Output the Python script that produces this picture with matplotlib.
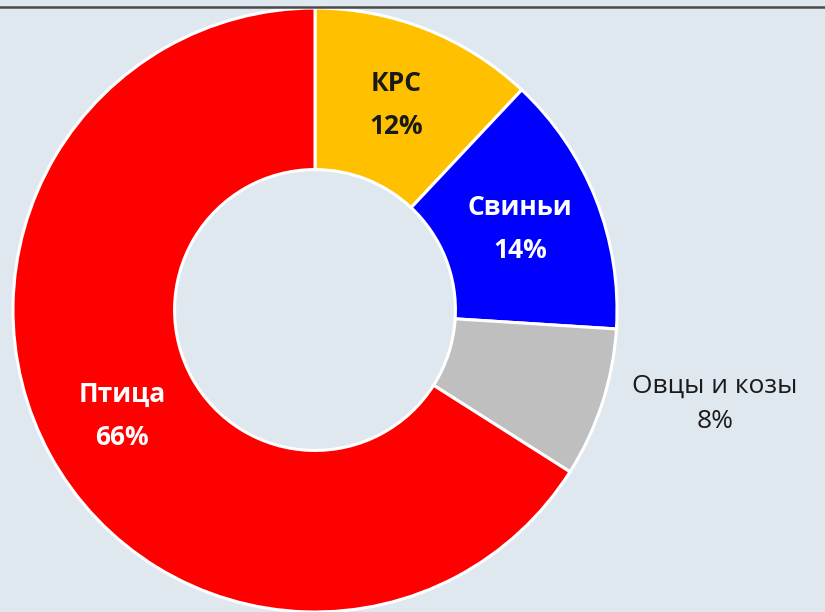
import matplotlib
matplotlib.use("Agg")
import matplotlib.pyplot as plt

categories = ["КРС", "Свиньи", "Овцы и козы", "Птица"]
values = [12, 14, 8, 66]
colors = ["#FFC000", "#0000FF", "#BFBFBF", "#FF0000"]
text_colors = ["#1a1a1a", "white", "#1a1a1a", "white"]
bold = [True, True, False, True]

plt.rcParams['font.family'] = ['Open Sans', 'DejaVu Sans']

bg = "#dfe7ef"
fig = plt.figure(figsize=(8.25, 6.12), dpi=100, facecolor=bg)
# top border line
fig.add_artist(plt.Line2D([0, 1], [1 - 6.5/612, 1 - 6.5/612], transform=fig.transFigure,
                          color="#4a4a4a", lw=1.8))

cx, cy, r = 315, 310, 302
W, H = 825, 612
ax = fig.add_axes([(cx - r) / W, (H - cy - r) / H, 2 * r / W, 2 * r / H])
ax.set_facecolor("none")

labels = [f"{c}\n{v}%" for c, v in zip(categories, values)]
wedges, texts = ax.pie(values, colors=colors, startangle=90, counterclock=False,
                       labels=labels, labeldistance=0.73,
                       wedgeprops=dict(width=0.535, edgecolor="white", linewidth=2.2),
                       textprops=dict(fontsize=19, ha="center", va="center", linespacing=1.75))
for t, c, b in zip(texts, text_colors, bold):
    t.set_color(c)
    t.set_fontweight("bold" if b else "normal")
    t.set_horizontalalignment("center")
    t.set_verticalalignment("center")
# outside label for the small slice
texts[2].set_position((1.325, -0.31))
texts[2].set_linespacing(1.55)

ax.set_xlim(-1, 1)
ax.set_ylim(-1, 1)
ax.set_aspect("auto")
ax.axis("off")

fig.savefig("out.png", dpi=100, facecolor=bg)
